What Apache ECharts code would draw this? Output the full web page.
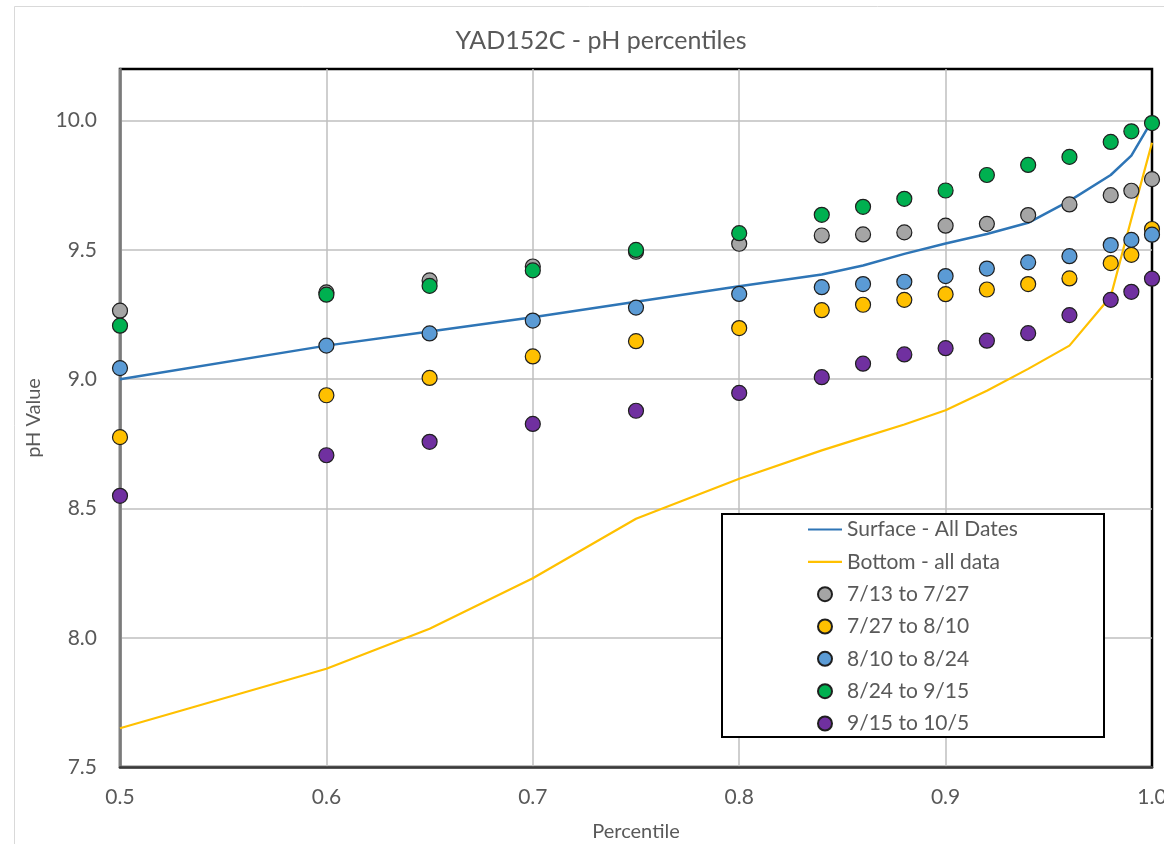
<!DOCTYPE html>
<html>
<head>
<meta charset="utf-8">
<title>YAD152C - pH percentiles</title>
<script src="https://cdn.jsdelivr.net/npm/echarts@6/dist/echarts.min.js"></script>
<style>
  html, body { margin: 0; padding: 0; background: #fff; }
  #chart { width: 1164px; height: 844px; }
</style>
</head>
<body>
<div id="chart"></div>
<script>
// Percentile positions shared by every series
const percentiles = [0.5, 0.6, 0.65, 0.7, 0.75, 0.8, 0.84, 0.86, 0.88, 0.9, 0.92, 0.94, 0.96, 0.98, 0.99, 1.0];

// Continuous percentile curves
const surfaceAll = [9.00, 9.13, 9.185, 9.24, 9.30, 9.36, 9.405, 9.44, 9.485, 9.525, 9.562, 9.605, 9.69, 9.79, 9.865, 10.0];
const bottomAll  = [7.65, 7.88, 8.035, 8.23, 8.46, 8.615, 8.725, 8.775, 8.825, 8.88, 8.955, 9.04, 9.13, 9.32, 9.62, 9.915];

// Percentiles for each sampling period
const p0713 = [9.265, 9.336, 9.382, 9.436, 9.493, 9.524, 9.556, 9.560, 9.568, 9.594, 9.601, 9.635, 9.676, 9.712, 9.729, 9.774];
const p0727 = [8.776, 8.938, 9.005, 9.088, 9.147, 9.198, 9.267, 9.288, 9.307, 9.329, 9.347, 9.368, 9.390, 9.449, 9.481, 9.581];
const p0810 = [9.043, 9.130, 9.177, 9.227, 9.277, 9.330, 9.356, 9.368, 9.377, 9.399, 9.428, 9.452, 9.476, 9.519, 9.539, 9.559];
const p0824 = [9.207, 9.327, 9.361, 9.421, 9.500, 9.565, 9.636, 9.667, 9.698, 9.730, 9.790, 9.829, 9.860, 9.918, 9.959, 9.991];
const p0915 = [8.549, 8.706, 8.758, 8.827, 8.878, 8.947, 9.008, 9.060, 9.096, 9.120, 9.149, 9.178, 9.248, 9.307, 9.338, 9.389];

const lineNames = ['Surface - All Dates', 'Bottom - all data'];
const periodNames = ['7/13 to 7/27', '7/27 to 8/10', '8/10 to 8/24', '8/24 to 9/15', '9/15 to 10/5'];

const FONT = 'Lato, "Liberation Sans", sans-serif';
const TXT = '#595959';

const pairs = (ys) => percentiles.map((x, i) => [x, ys[i]]);

const lineSeries = [
  { name: lineNames[0], values: surfaceAll, color: '#2E75B6', width: 2.5 },
  { name: lineNames[1], values: bottomAll, color: '#FFC000', width: 2.25 }
].map(s => ({
  name: s.name,
  type: 'line',
  data: pairs(s.values),
  symbol: 'none',
  showSymbol: false,
  lineStyle: { color: s.color, width: s.width },
  itemStyle: { color: s.color },
  z: 2
}));

const periodSeries = [
  { values: p0713, color: '#A5A5A5' },
  { values: p0727, color: '#FFC000' },
  { values: p0810, color: '#5B9BD5' },
  { values: p0824, color: '#00B050' },
  { values: p0915, color: '#7030A0' }
].map((s, i) => ({
  name: periodNames[i],
  type: 'scatter',
  data: pairs(s.values),
  symbol: 'circle',
  symbolSize: 15,
  itemStyle: { color: s.color, borderColor: '#1f1f1f', borderWidth: 1.2, opacity: 1 },
  z: 3 + i
}));

// Legend: thin bar icons for the two curves, circles for the periods
const LINE_ICON = 'path://M0,0L34,0L34,2.2L0,2.2Z';
const legendData = lineNames.map(n => ({ name: n, icon: LINE_ICON }))
  .concat(periodNames.map(n => ({ name: n })));

const chart = echarts.init(document.getElementById('chart'), null, { renderer: 'canvas' });

chart.setOption({
  animation: false,
  backgroundColor: '#fff',
  textStyle: { fontFamily: FONT },
  title: {
    text: 'YAD152C - pH percentiles',
    left: 596,
    top: 23,
    textAlign: 'center',
    textStyle: { fontFamily: FONT, fontSize: 25, fontWeight: 'normal', color: TXT }
  },
  graphic: {
    elements: [
      {
        type: 'rect',
        shape: { x: 14.5, y: 6.5, width: 1200, height: 900 },
        style: { fill: 'none', stroke: '#d9d9d9', lineWidth: 1 },
        z: -10, silent: true
      },
      {
        type: 'rect',
        shape: { x: 722, y: 514, width: 382, height: 223 },
        style: { fill: '#fff', stroke: '#000', lineWidth: 2 },
        z: 50, silent: true
      }
    ]
  },
  legend: {
    orient: 'vertical',
    left: 808,
    top: 517,
    z: 60,
    itemWidth: 34,
    itemHeight: 14,
    itemGap: 7.33,
    padding: 0,
    textStyle: { fontFamily: FONT, fontSize: 21, color: TXT, lineHeight: 25 },
    data: legendData
  },
  grid: {
    left: 120, right: 12, top: 69, bottom: 77,
    containLabel: false,
    outerBoundsMode: 'none',
    show: true, borderColor: '#000', borderWidth: 2.5, backgroundColor: 'transparent'
  },
  xAxis: {
    type: 'value',
    min: 0.5, max: 1.0, interval: 0.1,
    name: 'Percentile',
    nameLocation: 'middle',
    nameGap: 55,
    nameTextStyle: { fontFamily: FONT, fontSize: 20, color: TXT },
    axisLine: { show: true, onZero: false, lineStyle: { color: '#3a3a3a', width: 2.5 } },
    axisTick: { show: false },
    axisLabel: { fontFamily: FONT, fontSize: 21, color: TXT, margin: 20, formatter: v => v.toFixed(1) },
    splitLine: { show: true, showMaxLine: false, lineStyle: { color: '#BFBFBF', width: 1.5 } }
  },
  yAxis: {
    type: 'value',
    min: 7.5, max: 10.2, interval: 0.5,
    name: 'pH Value',
    nameLocation: 'middle',
    nameGap: 76,
    nameRotate: 90,
    nameTextStyle: { fontFamily: FONT, fontSize: 20, color: TXT },
    axisLine: { show: true, onZero: false, lineStyle: { color: '#7a7a7a', width: 2.5 } },
    axisTick: { show: false },
    axisLabel: {
      fontFamily: FONT, fontSize: 21, color: TXT, margin: 23,
      formatter: v => (Math.abs(v * 2 - Math.round(v * 2)) < 1e-6 ? v.toFixed(1) : '')
    },
    splitLine: { show: true, showMaxLine: false, lineStyle: { color: '#BFBFBF', width: 1.5 } }
  },
  series: lineSeries.concat(periodSeries)
});
</script>
</body>
</html>
